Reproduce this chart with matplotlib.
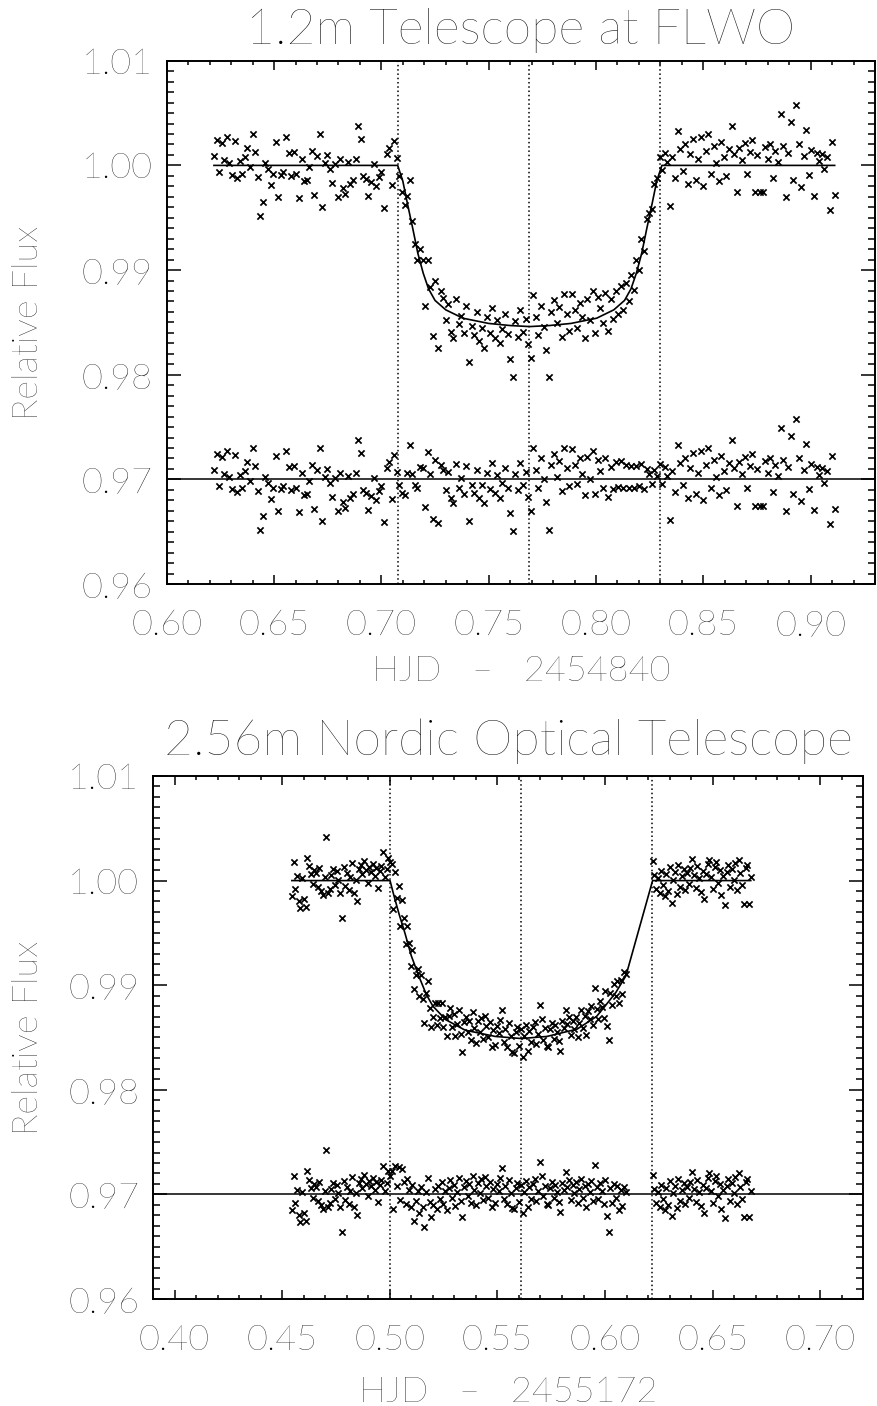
import matplotlib
matplotlib.use("Agg")
import matplotlib.pyplot as plt
from matplotlib.ticker import MultipleLocator, FormatStrFormatter

# ---------------- painel de cima: 1.2m FLWO ----------------
t_flwo = [
    0.6220, 0.6232, 0.6244, 0.6256, 0.6268, 0.6280, 0.6292, 0.6304, 0.6316, 0.6328,
    0.6340, 0.6352, 0.6364, 0.6376, 0.6388, 0.6400, 0.6412, 0.6424, 0.6436, 0.6448,
    0.6460, 0.6472, 0.6484, 0.6496, 0.6508, 0.6520, 0.6532, 0.6544, 0.6556, 0.6568,
    0.6580, 0.6592, 0.6604, 0.6616, 0.6628, 0.6640, 0.6652, 0.6664, 0.6676, 0.6688,
    0.6700, 0.6712, 0.6724, 0.6736, 0.6748, 0.6760, 0.6772, 0.6784, 0.6796, 0.6808,
    0.6820, 0.6832, 0.6844, 0.6856, 0.6868, 0.6880, 0.6892, 0.6904, 0.6916, 0.6928,
    0.6940, 0.6952, 0.6964, 0.6976, 0.6988, 0.7000, 0.7012, 0.7024, 0.7036, 0.7048,
    0.7060, 0.7072, 0.7084, 0.7096, 0.7108, 0.7120, 0.7132, 0.7144, 0.7156, 0.7168,
    0.7180, 0.7192, 0.7204, 0.7216, 0.7228, 0.7240, 0.7252, 0.7264, 0.7276, 0.7288,
    0.7300, 0.7312, 0.7324, 0.7336, 0.7348, 0.7360, 0.7372, 0.7384, 0.7396, 0.7408,
    0.7420, 0.7432, 0.7444, 0.7456, 0.7468, 0.7480, 0.7492, 0.7504, 0.7516, 0.7528,
    0.7540, 0.7552, 0.7564, 0.7576, 0.7588, 0.7600, 0.7612, 0.7624, 0.7636, 0.7648,
    0.7660, 0.7672, 0.7684, 0.7696, 0.7708, 0.7720, 0.7732, 0.7744, 0.7756, 0.7768,
    0.7780, 0.7792, 0.7804, 0.7816, 0.7828, 0.7840, 0.7852, 0.7864, 0.7876, 0.7888,
    0.7900, 0.7912, 0.7924, 0.7936, 0.7948, 0.7960, 0.7972, 0.7984, 0.7996, 0.8008,
    0.8020, 0.8032, 0.8044, 0.8056, 0.8068, 0.8080, 0.8092, 0.8104, 0.8116, 0.8128,
    0.8140, 0.8152, 0.8164, 0.8176, 0.8188, 0.8200, 0.8212, 0.8224, 0.8236, 0.8248,
    0.8260, 0.8272, 0.8284, 0.8296, 0.8308, 0.8320, 0.8332, 0.8344, 0.8356, 0.8368,
    0.8380, 0.8392, 0.8404, 0.8416, 0.8428, 0.8440, 0.8452, 0.8464, 0.8476, 0.8488,
    0.8500, 0.8512, 0.8524, 0.8536, 0.8548, 0.8560, 0.8572, 0.8584, 0.8596, 0.8608,
    0.8620, 0.8632, 0.8644, 0.8656, 0.8668, 0.8680, 0.8692, 0.8704, 0.8716, 0.8728,
    0.8740, 0.8752, 0.8764, 0.8776, 0.8788, 0.8800, 0.8812, 0.8824, 0.8836, 0.8848,
    0.8860, 0.8872, 0.8884, 0.8896, 0.8908, 0.8920, 0.8932, 0.8944, 0.8956, 0.8968,
    0.8980, 0.8992, 0.9004, 0.9016, 0.9028, 0.9040, 0.9052, 0.9064, 0.9076, 0.9088,
    0.9100, 0.9112,
]
fluxo_flwo = [
    1.0009, 1.0024, 0.9994, 1.0021, 1.0005, 1.0027, 1.0002, 0.9991, 1.0023, 0.9988,
    1.0004, 0.9992, 1.0008, 1.0017, 0.9998, 1.0030, 1.0013, 0.9989, 0.9952, 0.9965,
    1.0002, 0.9997, 0.9981, 0.9992, 1.0022, 0.9970, 0.9991, 0.9994, 1.0027, 1.0012,
    0.9990, 1.0013, 0.9992, 0.9969, 1.0006, 0.9985, 0.9986, 0.9998, 1.0014, 0.9972,
    1.0009, 1.0030, 0.9960, 1.0002, 1.0010, 0.9997, 0.9983, 1.0001, 0.9970, 1.0006,
    0.9978, 0.9973, 1.0003, 0.9982, 0.9986, 1.0006, 1.0038, 1.0025, 0.9990, 0.9987,
    0.9971, 0.9984, 1.0001, 0.9980, 0.9989, 0.9994, 0.9959, 1.0011, 1.0017, 0.9981,
    1.0023, 1.0007, 0.9990, 0.9975, 0.9962, 0.9971, 0.9986, 0.9947, 0.9925, 0.9910,
    0.9920, 0.9910, 0.9866, 0.9910, 0.9884, 0.9837, 0.9890, 0.9826, 0.9880, 0.9873,
    0.9852, 0.9868, 0.9841, 0.9835, 0.9872, 0.9848, 0.9856, 0.9840, 0.9866, 0.9812,
    0.9847, 0.9838, 0.9860, 0.9832, 0.9845, 0.9826, 0.9855, 0.9840, 0.9864, 0.9835,
    0.9852, 0.9830, 0.9844, 0.9858, 0.9839, 0.9815, 0.9798, 0.9851, 0.9836, 0.9862,
    0.9841, 0.9853, 0.9829, 0.9816, 0.9876, 0.9855, 0.9838, 0.9866, 0.9846, 0.9824,
    0.9798, 0.9860, 0.9871, 0.9849, 0.9865, 0.9836, 0.9877, 0.9858, 0.9842, 0.9877,
    0.9862, 0.9845, 0.9869, 0.9855, 0.9835, 0.9872, 0.9852, 0.9880, 0.9840, 0.9874,
    0.9864, 0.9849, 0.9878, 0.9842, 0.9872, 0.9853, 0.9880, 0.9858, 0.9885, 0.9862,
    0.9888, 0.9870, 0.9895, 0.9881, 0.9910, 0.9900, 0.9930, 0.9918, 0.9949, 0.9955,
    0.9958, 0.9982, 0.9988, 1.0008, 0.9996, 1.0012, 1.0003, 0.9961, 1.0008, 0.9988,
    1.0033, 1.0016, 0.9995, 1.0020, 0.9982, 1.0011, 1.0025, 0.9986, 1.0006, 1.0027,
    0.9980, 1.0014, 1.0030, 0.9992, 1.0019, 1.0002, 0.9985, 1.0022, 1.0008, 0.9990,
    1.0016, 1.0038, 1.0011, 0.9975, 1.0017, 1.0005, 1.0021, 0.9992, 1.0013, 1.0024,
    0.9975, 1.0010, 0.9975, 0.9975, 1.0018, 1.0006, 1.0020, 0.9988, 1.0014, 1.0003,
    1.0049, 1.0019, 0.9970, 1.0012, 1.0041, 0.9986, 1.0058, 1.0020, 0.9979, 1.0009,
    1.0034, 0.9991, 1.0015, 0.9971, 1.0012, 1.0004, 1.0011, 0.9997, 1.0008, 0.9957,
    1.0022, 0.9972,
]
resid_flwo = [
    0.9709, 0.9724, 0.9694, 0.9721, 0.9705, 0.9727, 0.9702, 0.9691, 0.9723, 0.9688,
    0.9704, 0.9692, 0.9708, 0.9717, 0.9698, 0.9730, 0.9713, 0.9689, 0.9652, 0.9665,
    0.9702, 0.9697, 0.9681, 0.9692, 0.9722, 0.9670, 0.9691, 0.9694, 0.9727, 0.9712,
    0.9690, 0.9713, 0.9692, 0.9669, 0.9706, 0.9685, 0.9686, 0.9698, 0.9714, 0.9672,
    0.9709, 0.9730, 0.9660, 0.9702, 0.9710, 0.9697, 0.9683, 0.9701, 0.9670, 0.9706,
    0.9678, 0.9673, 0.9703, 0.9682, 0.9686, 0.9706, 0.9738, 0.9725, 0.9690, 0.9687,
    0.9671, 0.9684, 0.9701, 0.9680, 0.9689, 0.9694, 0.9659, 0.9711, 0.9717, 0.9681,
    0.9723, 0.9707, 0.9695, 0.9687, 0.9685, 0.9706, 0.9733, 0.9705, 0.9695, 0.9692,
    0.9712, 0.9711, 0.9674, 0.9726, 0.9705, 0.9662, 0.9719, 0.9658, 0.9714, 0.9709,
    0.9690, 0.9707, 0.9682, 0.9677, 0.9715, 0.9692, 0.9701, 0.9686, 0.9713, 0.9660,
    0.9695, 0.9687, 0.9709, 0.9682, 0.9695, 0.9677, 0.9706, 0.9691, 0.9716, 0.9687,
    0.9704, 0.9682, 0.9697, 0.9711, 0.9692, 0.9668, 0.9651, 0.9705, 0.9690, 0.9716,
    0.9695, 0.9707, 0.9683, 0.9670, 0.9730, 0.9709, 0.9692, 0.9720, 0.9700, 0.9678,
    0.9652, 0.9714, 0.9724, 0.9702, 0.9718, 0.9689, 0.9730, 0.9711, 0.9694, 0.9729,
    0.9714, 0.9696, 0.9720, 0.9705, 0.9685, 0.9721, 0.9700, 0.9727, 0.9686, 0.9719,
    0.9708, 0.9692, 0.9720, 0.9683, 0.9712, 0.9691, 0.9717, 0.9693, 0.9718, 0.9692,
    0.9714, 0.9692, 0.9713, 0.9692, 0.9713, 0.9694, 0.9715, 0.9691, 0.9710, 0.9705,
    0.9696, 0.9709, 0.9703, 0.9715, 0.9696, 0.9712, 0.9703, 0.9661, 0.9708, 0.9688,
    0.9733, 0.9716, 0.9695, 0.9720, 0.9682, 0.9711, 0.9725, 0.9686, 0.9706, 0.9727,
    0.9680, 0.9714, 0.9730, 0.9692, 0.9719, 0.9702, 0.9685, 0.9722, 0.9708, 0.9690,
    0.9716, 0.9738, 0.9711, 0.9675, 0.9717, 0.9705, 0.9721, 0.9692, 0.9713, 0.9724,
    0.9675, 0.9710, 0.9675, 0.9675, 0.9718, 0.9706, 0.9720, 0.9688, 0.9714, 0.9703,
    0.9749, 0.9719, 0.9670, 0.9712, 0.9741, 0.9686, 0.9758, 0.9720, 0.9679, 0.9709,
    0.9734, 0.9691, 0.9715, 0.9671, 0.9712, 0.9704, 0.9711, 0.9697, 0.9708, 0.9657,
    0.9722, 0.9672,
]
# curva do modelo (vertices)
modelo_t_flwo = [0.6220, 0.7076, 0.7100, 0.7123, 0.7146, 0.7170, 0.7195, 0.7220, 0.7250,
                 0.7300, 0.7380, 0.7500, 0.7600, 0.7691, 0.7783, 0.7883, 0.8003, 0.8083,
                 0.8133, 0.8163, 0.8188, 0.8213, 0.8237, 0.8260, 0.8283, 0.8307, 0.9112]
modelo_f_flwo = [1.0000, 1.0000, 0.9985, 0.9962, 0.9940, 0.9916, 0.9897, 0.9882, 0.9871,
                 0.9862, 0.9854, 0.9849, 0.9847, 0.9846, 0.9847, 0.9849, 0.9854, 0.9862,
                 0.9871, 0.9882, 0.9897, 0.9916, 0.9940, 0.9962, 0.9985, 1.0000, 1.0000]
contatos_flwo = [0.7076, 0.7688, 0.8300]

# ---------------- painel de baixo: 2.56m NOT ----------------
t_not = [
    0.4545, 0.4553, 0.4561, 0.4569, 0.4577, 0.4585, 0.4593, 0.4601, 0.4609, 0.4617,
    0.4625, 0.4633, 0.4641, 0.4649, 0.4657, 0.4665, 0.4673, 0.4681, 0.4689, 0.4697,
    0.4705, 0.4713, 0.4721, 0.4729, 0.4737, 0.4745, 0.4753, 0.4761, 0.4769, 0.4777,
    0.4785, 0.4793, 0.4801, 0.4809, 0.4817, 0.4825, 0.4833, 0.4841, 0.4849, 0.4857,
    0.4865, 0.4873, 0.4881, 0.4889, 0.4897, 0.4905, 0.4913, 0.4921, 0.4929, 0.4937,
    0.4945, 0.4953, 0.4961, 0.4969, 0.4977, 0.4985, 0.4993, 0.5001,
    0.5009, 0.5017, 0.5025, 0.5033, 0.5041, 0.5049, 0.5057, 0.5065, 0.5073, 0.5081,
    0.5089, 0.5097, 0.5105, 0.5113, 0.5121, 0.5129, 0.5137, 0.5145, 0.5153, 0.5161,
    0.5169, 0.5177, 0.5185, 0.5193, 0.5201, 0.5209, 0.5217, 0.5225, 0.5233, 0.5241,
    0.5249, 0.5257, 0.5265, 0.5273, 0.5281, 0.5289, 0.5297, 0.5305, 0.5313, 0.5321,
    0.5329, 0.5337, 0.5345, 0.5353, 0.5361, 0.5369, 0.5377, 0.5385, 0.5393, 0.5401,
    0.5409, 0.5417, 0.5425, 0.5433, 0.5441, 0.5449, 0.5457, 0.5465, 0.5473, 0.5481,
    0.5489, 0.5497, 0.5505, 0.5513, 0.5521, 0.5529, 0.5537, 0.5545, 0.5553, 0.5561,
    0.5569, 0.5577, 0.5585, 0.5593, 0.5601, 0.5609, 0.5617, 0.5625, 0.5633, 0.5641,
    0.5649, 0.5657, 0.5665, 0.5673, 0.5681, 0.5689, 0.5697, 0.5705, 0.5713, 0.5721,
    0.5729, 0.5737, 0.5745, 0.5753, 0.5761, 0.5769, 0.5777, 0.5785, 0.5793, 0.5801,
    0.5809, 0.5817, 0.5825, 0.5833, 0.5841, 0.5849, 0.5857, 0.5865, 0.5873, 0.5881,
    0.5889, 0.5897, 0.5905, 0.5913, 0.5921, 0.5929, 0.5937, 0.5945, 0.5953, 0.5961,
    0.5969, 0.5977, 0.5985, 0.5993, 0.6001, 0.6009, 0.6017, 0.6025, 0.6033, 0.6041,
    0.6049, 0.6057, 0.6065, 0.6073, 0.6081, 0.6089, 0.6097,
    0.6221, 0.6229, 0.6237, 0.6245, 0.6253, 0.6261, 0.6269, 0.6277, 0.6285, 0.6293,
    0.6301, 0.6309, 0.6317, 0.6325, 0.6333, 0.6341, 0.6349, 0.6357, 0.6365, 0.6373,
    0.6381, 0.6389, 0.6397, 0.6405, 0.6413, 0.6421, 0.6429, 0.6437, 0.6445, 0.6453,
    0.6461, 0.6469, 0.6477, 0.6485, 0.6493, 0.6501, 0.6509, 0.6517, 0.6525, 0.6533,
    0.6541, 0.6549, 0.6557, 0.6565, 0.6573, 0.6581, 0.6589, 0.6597, 0.6605, 0.6613,
    0.6621, 0.6629, 0.6637, 0.6645, 0.6653, 0.6661, 0.6669, 0.6677,
]
fluxo_not = [
    0.9985, 1.0018, 0.9992, 1.0004, 0.9980, 0.9974, 1.0002, 0.9982, 0.9975, 1.0022,
    1.0014, 1.0006, 0.9997, 1.0010, 1.0007, 0.9994, 1.0012, 0.9990, 0.9986, 1.0003,
    1.0042, 0.9988, 0.9992, 1.0005, 1.0011, 0.9996, 1.0009, 1.0001, 0.9988, 0.9964,
    1.0013, 0.9995, 1.0007, 0.9991, 1.0003, 1.0017, 0.9988, 1.0001, 0.9980, 1.0011,
    1.0015, 1.0006, 1.0019, 1.0010, 0.9998, 1.0013, 1.0008, 1.0016, 1.0004, 1.0012,
    0.9993, 1.0009, 1.0014, 1.0027, 1.0003, 1.0011, 1.0022, 1.0018,
    1.0016, 0.9973, 1.0008, 0.9983, 0.9995, 0.9957, 0.9981, 0.9964, 0.9939, 0.9957,
    0.9940, 0.9918, 0.9934, 0.9896, 0.9910, 0.9915, 0.9890, 0.9910, 0.9887, 0.9864,
    0.9893, 0.9904, 0.9878, 0.9860, 0.9870, 0.9883, 0.9862, 0.9883, 0.9869, 0.9883,
    0.9860, 0.9870, 0.9851, 0.9871, 0.9878, 0.9860, 0.9872, 0.9851, 0.9863, 0.9876,
    0.9853, 0.9836, 0.9865, 0.9870, 0.9855, 0.9866, 0.9848, 0.9874, 0.9859, 0.9845,
    0.9866, 0.9855, 0.9869, 0.9849, 0.9871, 0.9861, 0.9850, 0.9865, 0.9841, 0.9857,
    0.9843, 0.9861, 0.9854, 0.9867, 0.9876, 0.9846, 0.9858, 0.9841, 0.9864, 0.9851,
    0.9836, 0.9835, 0.9855, 0.9860, 0.9842, 0.9858, 0.9831, 0.9851, 0.9862, 0.9837,
    0.9856, 0.9846, 0.9860, 0.9865, 0.9844, 0.9853, 0.9881, 0.9868, 0.9848, 0.9859,
    0.9842, 0.9841, 0.9858, 0.9864, 0.9849, 0.9862, 0.9855, 0.9847, 0.9837, 0.9866,
    0.9859, 0.9876, 0.9863, 0.9870, 0.9852, 0.9866, 0.9858, 0.9870, 0.9850, 0.9864,
    0.9876, 0.9859, 0.9871, 0.9852, 0.9875, 0.9868, 0.9880, 0.9862, 0.9897, 0.9877,
    0.9868, 0.9885, 0.9879, 0.9869, 0.9894, 0.9861, 0.9848, 0.9893, 0.9881, 0.9901,
    0.9890, 0.9904, 0.9883, 0.9905, 0.9892, 0.9913, 0.9911,
    1.0019, 1.0005, 0.9992, 1.0002, 0.9988, 1.0009, 0.9996, 0.9985, 1.0006, 0.9990,
    1.0013, 0.9979, 1.0001, 1.0008, 0.9987, 1.0015, 0.9994, 1.0004, 1.0011, 0.9991,
    1.0007, 0.9997, 1.0012, 1.0021, 1.0005, 0.9993, 1.0014, 1.0002, 0.9989, 1.0009,
    0.9982, 1.0006, 1.0016, 1.0020, 1.0003, 0.9992, 1.0013, 1.0018, 0.9998, 1.0010,
    0.9986, 1.0004, 0.9977, 1.0008, 1.0015, 0.9994, 1.0011, 1.0001, 1.0017, 0.9991,
    1.0020, 1.0007, 0.9996, 0.9978, 1.0012, 1.0015, 0.9978, 1.0003,
]
resid_not = [
    0.9685, 0.9718, 0.9692, 0.9704, 0.9680, 0.9674, 0.9702, 0.9682, 0.9675, 0.9722,
    0.9714, 0.9706, 0.9697, 0.9710, 0.9707, 0.9694, 0.9712, 0.9690, 0.9686, 0.9703,
    0.9742, 0.9688, 0.9692, 0.9705, 0.9711, 0.9696, 0.9709, 0.9701, 0.9688, 0.9664,
    0.9713, 0.9695, 0.9707, 0.9691, 0.9703, 0.9717, 0.9688, 0.9701, 0.9680, 0.9711,
    0.9715, 0.9706, 0.9719, 0.9710, 0.9698, 0.9713, 0.9708, 0.9716, 0.9704, 0.9712,
    0.9693, 0.9709, 0.9714, 0.9727, 0.9703, 0.9711, 0.9722, 0.9718,
    0.9722, 0.9686, 0.9727, 0.9708, 0.9726, 0.9695, 0.9724, 0.9712, 0.9691, 0.9715,
    0.9704, 0.9688, 0.9709, 0.9675, 0.9694, 0.9703, 0.9682, 0.9707, 0.9688, 0.9669,
    0.9702, 0.9716, 0.9693, 0.9678, 0.9690, 0.9705, 0.9686, 0.9708, 0.9696, 0.9712,
    0.9691, 0.9703, 0.9685, 0.9706, 0.9714, 0.9697, 0.9709, 0.9689, 0.9702, 0.9716,
    0.9694, 0.9678, 0.9707, 0.9713, 0.9698, 0.9710, 0.9692, 0.9718, 0.9704, 0.9690,
    0.9711, 0.9701, 0.9715, 0.9695, 0.9717, 0.9708, 0.9697, 0.9712, 0.9688, 0.9705,
    0.9692, 0.9710, 0.9703, 0.9716, 0.9725, 0.9696, 0.9708, 0.9691, 0.9714, 0.9701,
    0.9687, 0.9686, 0.9706, 0.9711, 0.9693, 0.9709, 0.9682, 0.9702, 0.9713, 0.9688,
    0.9707, 0.9696, 0.9710, 0.9715, 0.9694, 0.9703, 0.9731, 0.9718, 0.9698, 0.9708,
    0.9691, 0.9690, 0.9706, 0.9712, 0.9697, 0.9709, 0.9702, 0.9693, 0.9683, 0.9711,
    0.9704, 0.9721, 0.9707, 0.9714, 0.9695, 0.9709, 0.9701, 0.9712, 0.9692, 0.9705,
    0.9715, 0.9697, 0.9708, 0.9688, 0.9710, 0.9702, 0.9713, 0.9694, 0.9728, 0.9707,
    0.9696, 0.9711, 0.9703, 0.9691, 0.9714, 0.9679, 0.9664, 0.9706, 0.9692, 0.9710,
    0.9697, 0.9708, 0.9685, 0.9704, 0.9689, 0.9707, 0.9702,
    0.9719, 0.9705, 0.9692, 0.9702, 0.9688, 0.9709, 0.9696, 0.9685, 0.9706, 0.9690,
    0.9713, 0.9679, 0.9701, 0.9708, 0.9687, 0.9715, 0.9694, 0.9704, 0.9711, 0.9691,
    0.9707, 0.9697, 0.9712, 0.9721, 0.9705, 0.9693, 0.9714, 0.9702, 0.9689, 0.9709,
    0.9682, 0.9706, 0.9716, 0.9720, 0.9703, 0.9692, 0.9713, 0.9718, 0.9698, 0.9710,
    0.9686, 0.9704, 0.9677, 0.9708, 0.9715, 0.9694, 0.9711, 0.9701, 0.9717, 0.9691,
    0.9720, 0.9707, 0.9696, 0.9678, 0.9712, 0.9715, 0.9678, 0.9703,
]
modelo_t_not = [0.4545, 0.5001, 0.5020, 0.5043, 0.5070, 0.5100, 0.5136, 0.5170, 0.5200,
                0.5260, 0.5350, 0.5490, 0.5611, 0.5730, 0.5870, 0.5960, 0.6000, 0.6050,
                0.6097, 0.6221, 0.6677]
modelo_f_not = [1.0000, 1.0000, 0.9985, 0.9968, 0.9950, 0.9928, 0.9908, 0.9891, 0.9880,
                0.9867, 0.9857, 0.9851, 0.9849, 0.9851, 0.9858, 0.9870, 0.9880, 0.9893,
                0.9909, 1.0000, 1.0000]
contatos_not = [0.5001, 0.5611, 0.6219]

CINZA = "#000000"
plt.rcParams['font.family'] = ['Lato', 'DejaVu Sans']
plt.rcParams['font.weight'] = 'light'

fig = plt.figure(figsize=(8.78, 14.06), dpi=100)


def painel(ax, t, fluxo, resid, mod_t, mod_f, contatos, xmin, xmax):
    for c in contatos:
        ax.axvline(c, color='k', lw=1.1, ls=(0, (1, 1.8)), zorder=1)
    ax.axhline(0.97, color='k', lw=1.1, zorder=2)
    ax.plot(mod_t, mod_f, color='k', lw=1.2, zorder=2)
    ax.scatter(t, fluxo, marker='x', s=20, c='k', linewidths=1.25, zorder=3)
    ax.scatter(t, resid, marker='x', s=20, c='k', linewidths=1.25, zorder=3)
    ax.set_xlim(xmin, xmax)
    ax.set_ylim(0.96, 1.01)
    ax.xaxis.set_major_locator(MultipleLocator(0.05))
    ax.xaxis.set_minor_locator(MultipleLocator(0.01))
    ax.yaxis.set_major_locator(MultipleLocator(0.01))
    ax.yaxis.set_minor_locator(MultipleLocator(0.001))
    ax.xaxis.set_major_formatter(FormatStrFormatter('%.2f'))
    ax.yaxis.set_major_formatter(FormatStrFormatter('%.2f'))
    ax.tick_params(which='both', direction='in', top=True, right=True,
                   color='k', labelcolor=CINZA, labelsize=26, width=1.1)
    ax.tick_params(axis='x', which='major', length=6.5, pad=18)
    ax.tick_params(axis='x', which='minor', length=3.2)
    ax.tick_params(axis='y', which='major', length=10, pad=10)
    ax.tick_params(axis='y', which='minor', length=5)
    for s in ax.spines.values():
        s.set_linewidth(1.4)


ax1 = fig.add_axes([0.1899, 0.5846, 0.8067, 0.3722])
painel(ax1, t_flwo, fluxo_flwo, resid_flwo, modelo_t_flwo, modelo_f_flwo,
       contatos_flwo, 0.60, 0.93)

ax2 = fig.add_axes([0.1743, 0.0761, 0.8090, 0.3720])
painel(ax2, t_not, fluxo_not, resid_not, modelo_t_not, modelo_f_not,
       contatos_not, 0.39, 0.72)

# titulos e rotulos
fig.text(0.5933, 0.9690, "1.2m Telescope at FLWO", ha='center', va='baseline',
         fontsize=36, color=CINZA)
fig.text(0.5788, 0.4630, "2.56m Nordic Optical Telescope", ha='center', va='baseline',
         fontsize=36, color=CINZA)
fig.text(0.5933, 0.5156, "HJD   \u2013   2454840", ha='center', va='baseline',
         fontsize=26, color=CINZA)
fig.text(0.5788, 0.0030, "HJD   \u2013   2455172", ha='center', va='baseline',
         fontsize=26, color=CINZA)
fig.text(0.033, 0.7707, "Relative Flux", rotation=90, ha='center', va='center',
         fontsize=26, color=CINZA)
fig.text(0.033, 0.2621, "Relative Flux", rotation=90, ha='center', va='center',
         fontsize=26, color=CINZA)

fig.savefig("out.png", dpi=100)
